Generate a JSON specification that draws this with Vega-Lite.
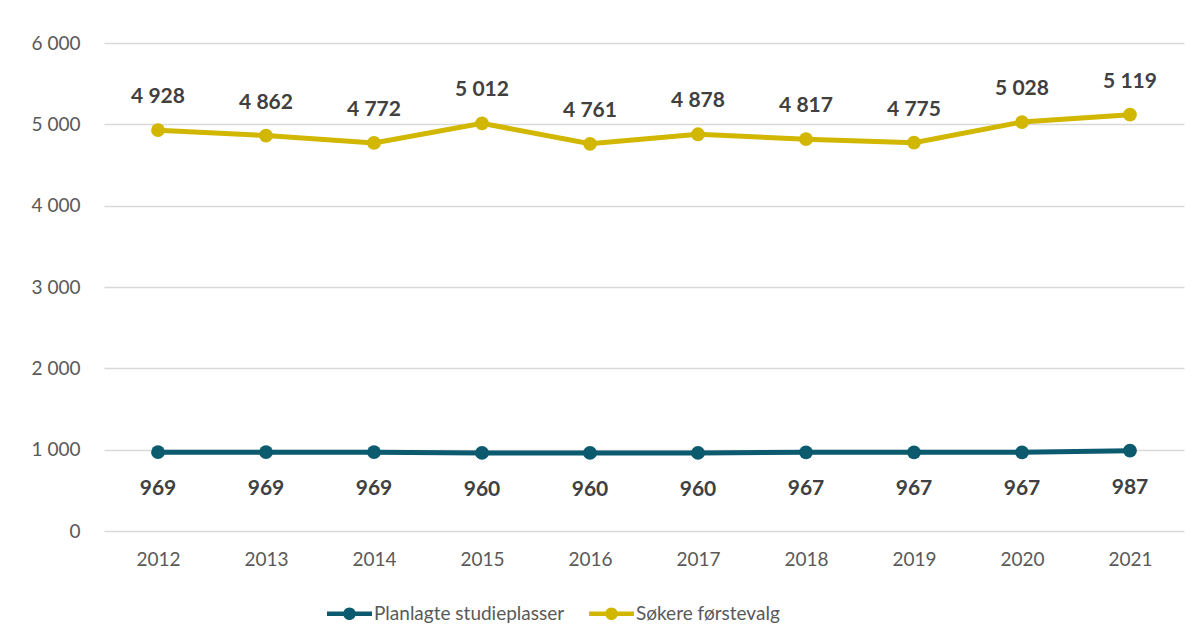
{
  "$schema": "https://vega.github.io/schema/vega-lite/v6.json",
  "width": 1080,
  "height": 488,
  "autosize": "none",
  "padding": {"left": 104, "top": 43, "right": 16, "bottom": 113},
  "background": "white",
  "config": {
    "locale": {"number": {"decimal": ",", "thousands": " ", "grouping": [3], "currency": ["", " kr"]}},
    "view": {"stroke": null},
    "font": "Lato"
  },
  "data": {
    "values": [
      {"year": "2012", "series": "Planlagte studieplasser", "value": 969},
      {"year": "2013", "series": "Planlagte studieplasser", "value": 969},
      {"year": "2014", "series": "Planlagte studieplasser", "value": 969},
      {"year": "2015", "series": "Planlagte studieplasser", "value": 960},
      {"year": "2016", "series": "Planlagte studieplasser", "value": 960},
      {"year": "2017", "series": "Planlagte studieplasser", "value": 960},
      {"year": "2018", "series": "Planlagte studieplasser", "value": 967},
      {"year": "2019", "series": "Planlagte studieplasser", "value": 967},
      {"year": "2020", "series": "Planlagte studieplasser", "value": 967},
      {"year": "2021", "series": "Planlagte studieplasser", "value": 987},
      {"year": "2012", "series": "Søkere førstevalg", "value": 4928},
      {"year": "2013", "series": "Søkere førstevalg", "value": 4862},
      {"year": "2014", "series": "Søkere førstevalg", "value": 4772},
      {"year": "2015", "series": "Søkere førstevalg", "value": 5012},
      {"year": "2016", "series": "Søkere førstevalg", "value": 4761},
      {"year": "2017", "series": "Søkere førstevalg", "value": 4878},
      {"year": "2018", "series": "Søkere førstevalg", "value": 4817},
      {"year": "2019", "series": "Søkere førstevalg", "value": 4775},
      {"year": "2020", "series": "Søkere førstevalg", "value": 5028},
      {"year": "2021", "series": "Søkere førstevalg", "value": 5119}
    ]
  },
  "encoding": {
    "x": {
      "field": "year", "type": "ordinal",
      "scale": {"type": "point", "padding": 0.5},
      "axis": {"title": null, "labelAngle": 0, "ticks": false, "domain": false, "labelFontSize": 19, "labelColor": "#595959", "labelPadding": 19, "labelFont": "Lato"}
    },
    "y": {
      "field": "value", "type": "quantitative",
      "scale": {"domain": [0, 6000], "nice": false},
      "axis": {"title": null, "values": [0, 1000, 2000, 3000, 4000, 5000, 6000], "format": ",d", "ticks": false, "domain": false, "gridColor": "#d9d9d9", "gridWidth": 1.5, "labelFontSize": 19, "labelColor": "#595959", "labelPadding": 24, "labelFont": "Lato"}
    },
    "color": {
      "field": "series", "type": "nominal",
      "scale": {"domain": ["Planlagte studieplasser", "Søkere førstevalg"], "range": ["#0b5a6e", "#d1b700"]},
      "legend": {
        "title": null, "orient": "none", "legendX": 223, "legendY": 548, "direction": "horizontal",
        "symbolType": "M-1,-0.1H1V0.1H-1Z M-0.28,0A0.28,0.28 0 1,1 0.28,0A0.28,0.28 0 1,1 -0.28,0Z",
        "symbolSize": 2025, "symbolStrokeWidth": 0, "symbolOpacity": 1,
        "labelFontSize": 19, "labelColor": "#595959", "labelFont": "Lato", "labelOffset": 2, "labelLimit": 400,
        "columnPadding": 24, "symbolOffset": 0
      }
    }
  },
  "layer": [
    {
      "mark": {"type": "line", "strokeWidth": 5, "point": {"filled": true, "size": 190, "opacity": 1}}
    },
    {
      "transform": [{"filter": "datum.series === 'Søkere førstevalg'"}],
      "mark": {"type": "text", "dy": -33, "fontSize": 21, "fontWeight": "bold", "font": "Lato"},
      "encoding": {"text": {"field": "value", "type": "quantitative", "format": ",d"}, "color": {"value": "#404040"}}
    },
    {
      "transform": [{"filter": "datum.series === 'Planlagte studieplasser'"}],
      "mark": {"type": "text", "dy": 37, "fontSize": 21, "fontWeight": "bold", "font": "Lato"},
      "encoding": {"text": {"field": "value", "type": "quantitative", "format": ",d"}, "color": {"value": "#404040"}}
    }
  ]
}
